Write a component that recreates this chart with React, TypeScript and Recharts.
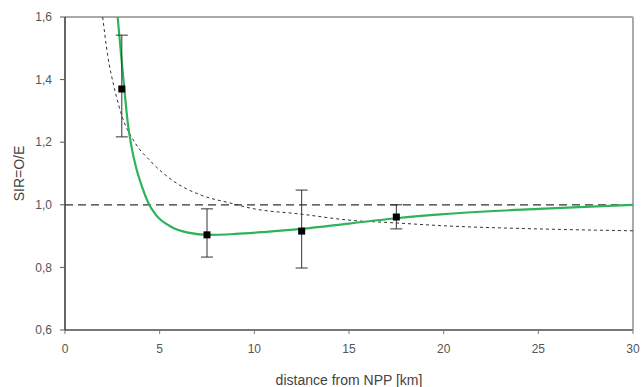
import { ComposedChart, Line, Scatter, ErrorBar, XAxis, YAxis, ReferenceLine } from 'recharts';

// fitted curve (green)
const fitX = [2.78, 3.0, 3.15, 3.3, 3.5, 3.75, 4.0, 4.45, 4.8, 5.6, 6.5, 7.55, 9, 10.5, 12.5, 15, 17.5, 20, 25, 30];
const fitY = [1.6, 1.455, 1.36, 1.27, 1.19, 1.12, 1.07, 1.0, 0.968, 0.93, 0.911, 0.904, 0.907, 0.913, 0.923, 0.94, 0.957, 0.97, 0.987, 1.0];

// dotted reference curve
const dotX = [1.99, 2.25, 2.61, 3.05, 3.66, 4.54, 5.77, 7.18, 8.77, 9.83, 12.5, 15, 17.5, 20, 25, 30];
const dotY = [1.6, 1.479, 1.372, 1.276, 1.202, 1.138, 1.074, 1.031, 1.005, 0.989, 0.97, 0.951, 0.942, 0.933, 0.923, 0.917];

// observed SIR with confidence limits
const obsX = [3, 7.5, 12.5, 17.5];
const obsSIR = [1.37, 0.904, 0.916, 0.961];
const obsLow = [1.217, 0.833, 0.798, 0.923];
const obsHigh = [1.542, 0.987, 1.047, 1.0];

const xTicks = [0, 5, 10, 15, 20, 25, 30];
const yTicks = [0.6, 0.8, 1.0, 1.2, 1.4, 1.6];

const fitData = fitX.map((x, i) => ({ x, y: fitY[i] }));
const dotData = dotX.map((x, i) => ({ x, y: dotY[i] }));
const obsData = obsX.map((x, i) => ({
  x,
  y: obsSIR[i],
  err: [obsSIR[i] - obsLow[i], obsHigh[i] - obsSIR[i]],
}));

const FONT = '"Liberation Sans", Arial, sans-serif';
const tickStyle = { fontSize: 12, fill: '#555', fontFamily: FONT };

const Square = (props: any) => {
  const { cx, cy } = props;
  return <rect x={cx - 3.5} y={cy - 3.5} width={7} height={7} fill="#000" />;
};

const comma = (v: number, d: number) => v.toFixed(d).replace('.', ',');

export default function App() {
  return (
    <div style={{ position: 'absolute', left: 0, top: 0, width: 642, height: 387, background: '#fff' }}>
      <ComposedChart width={642} height={387} margin={{ top: 17, right: 9, bottom: 0, left: 0 }}>
        <XAxis
          type="number"
          dataKey="x"
          domain={[0, 30]}
          ticks={xTicks}
          allowDuplicatedCategory={false}
          height={57}
          tick={tickStyle}
          tickSize={4}
          tickMargin={10}
          axisLine={{ stroke: '#777', strokeWidth: 2 }}
          tickLine={{ stroke: '#777' }}
          label={{ value: 'distance from NPP [km]', position: 'insideBottom', offset: 2, style: { fontSize: 14, fill: '#444', fontFamily: FONT } }}
        />
        <YAxis
          type="number"
          dataKey="y"
          domain={[0.6, 1.6]}
          ticks={yTicks}
          width={65}
          tick={tickStyle}
          tickSize={5}
          tickMargin={8}
          tickFormatter={(v: number) => comma(v, 1)}
          axisLine={{ stroke: '#333', strokeWidth: 1.5 }}
          tickLine={{ stroke: '#555' }}
          label={{ value: 'SIR=O/E', angle: -90, position: 'insideLeft', offset: 19, style: { fontSize: 14, fill: '#444', fontFamily: FONT, textAnchor: 'middle' } }}
        />
        <ReferenceLine y={1.6} stroke="#aaa" strokeWidth={2} />
        <ReferenceLine x={30} stroke="#aaa" strokeWidth={2} />
        <ReferenceLine y={1.0} stroke="#333" strokeWidth={1.2} strokeDasharray="8 5" />
        <Line
          data={dotData}
          dataKey="y"
          type="monotone"
          stroke="#333"
          strokeWidth={1}
          strokeDasharray="3 3"
          dot={false}
          isAnimationActive={false}
        />
        <Line
          data={fitData}
          dataKey="y"
          type="monotone"
          stroke="#2db35a"
          strokeWidth={2.2}
          dot={false}
          isAnimationActive={false}
        />
        <Scatter data={obsData} dataKey="y" shape={<Square />} isAnimationActive={false}>
          <ErrorBar dataKey="err" direction="y" width={6} stroke="#333" strokeWidth={1} />
        </Scatter>
      </ComposedChart>
    </div>
  );
}
